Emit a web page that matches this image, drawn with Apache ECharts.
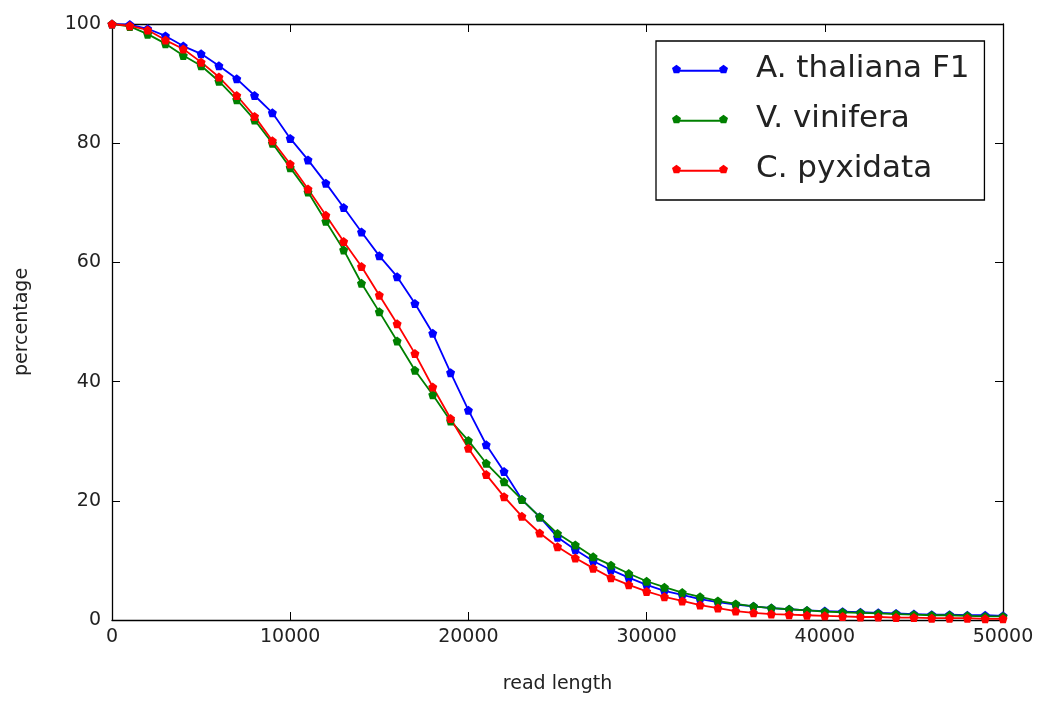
<!DOCTYPE html>
<html>
<head>
<meta charset="utf-8">
<script src="https://cdn.jsdelivr.net/npm/echarts@6/dist/echarts.min.js"></script>
<style>html,body{margin:0;padding:0;background:#fff;}#chart{width:1052px;height:702px;}</style>
</head>
<body>
<div id="chart"></div>
<script>
var readLengths = [0,1000,2000,3000,4000,5000,6000,7000,8000,9000,10000,11000,12000,13000,14000,15000,16000,17000,18000,19000,20000,21000,22000,23000,24000,25000,26000,27000,28000,29000,30000,31000,32000,33000,34000,35000,36000,37000,38000,39000,40000,41000,42000,43000,44000,45000,46000,47000,48000,49000,50000];
var thaliana = [100,99.9,99.2,98.0,96.3,95.0,93.0,90.8,88.0,85.1,80.8,77.2,73.3,69.2,65.1,61.1,57.6,53.1,48.1,41.5,35.2,29.4,24.9,20.2,17.3,13.9,11.8,9.9,8.4,7.1,5.9,4.9,4.2,3.5,3.0,2.6,2.3,2.0,1.8,1.6,1.5,1.4,1.3,1.2,1.1,1.0,0.9,0.9,0.8,0.8,0.7];
var vinifera = [100,99.6,98.3,96.7,94.7,93.0,90.4,87.3,83.9,80.0,75.9,71.8,66.9,62.1,56.5,51.7,46.8,41.9,37.8,33.4,30.1,26.3,23.2,20.2,17.3,14.5,12.6,10.6,9.2,7.8,6.5,5.5,4.6,3.9,3.2,2.7,2.3,2.0,1.8,1.6,1.4,1.3,1.2,1.1,1.0,0.9,0.8,0.8,0.7,0.6,0.6];
var pyxidata = [100,99.7,99.0,97.3,95.8,93.6,91.1,88.0,84.5,80.4,76.5,72.3,67.9,63.5,59.3,54.5,49.7,44.7,39.1,33.8,28.8,24.4,20.7,17.4,14.6,12.3,10.4,8.7,7.1,5.9,4.8,3.9,3.2,2.5,2.0,1.5,1.2,1.0,0.9,0.8,0.7,0.6,0.5,0.5,0.4,0.4,0.3,0.3,0.3,0.2,0.2];
var seriesNames = ['A. thaliana F1','V. vinifera','C. pyxidata'];
var seriesColors = ['#0000ff','#008000','#ff0000'];
var xTicks = [0,10000,20000,30000,40000,50000];
var yTicks = [0,20,40,60,80,100];

var pent = 'path://M50,0 L97.6,34.5 L79.4,90.5 L20.6,90.5 L2.4,34.5 Z';
var legendIcon = 'path://M45,2 L87.8,33.1 L83,50 L457,50 L452.2,33.1 L495,2 L537.8,33.1 L521.5,83.4 L468.5,83.4 L462,68 L78,68 L71.5,83.4 L18.5,83.4 L2.2,33.1 Z';
var font = 'DejaVu Sans';

function pairs(ys){ return readLengths.map(function(x,i){ return [x, ys[i]]; }); }
var allData = [thaliana, vinifera, pyxidata];

var chart = echarts.init(document.getElementById('chart'), null, {renderer:'canvas'});
var axisLine = {show:true, onZero:false, lineStyle:{color:'#000', width:1.3}};
var tick = {show:true, inside:true, length:8, lineStyle:{color:'#000', width:1}};
var option = {
  backgroundColor:'#fff',
  animation:false,
  grid:{left:112, right:49, top:24, bottom:82, containLabel:false},
  xAxis:[{
    type:'value', min:0, max:50000, interval:10000, position:'bottom',
    name:'read length', nameLocation:'middle', nameGap:55,
    nameTextStyle:{fontFamily:font, fontSize:19, color:'#222'},
    axisLine:axisLine, axisTick:tick, splitLine:{show:false},
    axisLabel:{fontFamily:font, fontSize:19, color:'#222', margin:8,
      customValues: xTicks, formatter:function(v){return String(v);}}
  },{
    type:'value', min:0, max:50000, interval:10000, position:'top',
    axisLine:axisLine, axisTick:tick, splitLine:{show:false}, axisLabel:{show:false}
  }],
  yAxis:[{
    type:'value', min:0, max:100, interval:20, position:'left',
    name:'percentage', nameLocation:'middle', nameGap:80,
    nameTextStyle:{fontFamily:font, fontSize:19, color:'#222'},
    axisLine:axisLine, axisTick:tick, splitLine:{show:false},
    axisLabel:{fontFamily:font, fontSize:19, color:'#222', margin:11}
  },{
    type:'value', min:0, max:100, interval:20, position:'right',
    axisLine:axisLine, axisTick:tick, splitLine:{show:false}, axisLabel:{show:false}
  }],
  legend:{
    orient:'vertical', left:656, top:41,
    data: seriesNames,
    icon: legendIcon, itemWidth:56, itemHeight:9,
    itemGap:16,
    padding:[11,15,14,16],
    borderColor:'#000', borderWidth:1.3, backgroundColor:'#fff',
    textStyle:{fontFamily:font, fontSize:31, color:'#222', lineHeight:34, padding:[0,0,0,23]}
  },
  series: seriesNames.map(function(n,i){
    return {
      name:n, type:'line', xAxisIndex:0, yAxisIndex:0,
      data: pairs(allData[i]),
      symbol: pent, symbolSize:9, showAllSymbol:true,
      color: seriesColors[i],
      lineStyle:{color:seriesColors[i], width:1.8},
      itemStyle:{color:seriesColors[i]},
      clip:true
    };
  })
};
chart.setOption(option);
</script>
</body>
</html>
